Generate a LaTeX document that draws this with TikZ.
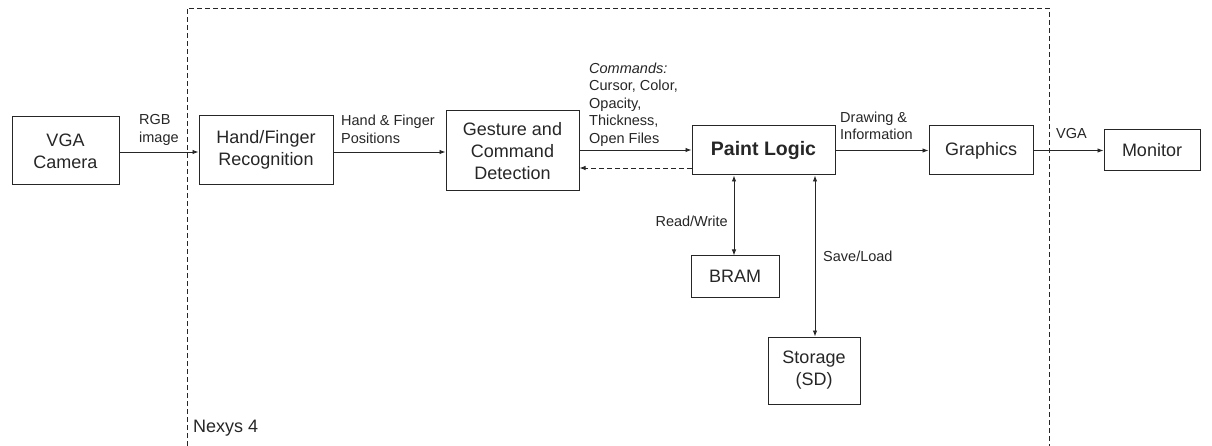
\documentclass[tikz,border=0pt]{standalone}
\usepackage{fontspec}
\setmainfont{Liberation Sans}
\usetikzlibrary{arrows.meta}
\definecolor{ink}{HTML}{262626}
\begin{document}
\begin{tikzpicture}[x=1pt,y=-1pt,
  box/.style={draw=ink,line width=1pt,inner sep=0pt,align=center,text=ink,font=\fontsize{18}{22}\selectfont},
  lbl/.style={inner sep=0pt,align=left,text=ink,font=\fontsize{14.5}{17.5}\selectfont},
  arr/.style={draw=ink,line width=0.9pt,-{Latex[length=6pt,width=4.5pt]}},
  darr/.style={draw=ink,line width=0.9pt,{Latex[length=6pt,width=4.5pt]}-{Latex[length=6pt,width=4.5pt]}},
  fence/.style={draw=ink,line width=0.9pt,dash pattern=on 5pt off 3pt}]
\useasboundingbox (0,0) rectangle (1212,446);
% Nexys 4 boundary
\coordinate (f1) at (187,446);
\coordinate (f2) at (187,8);
\coordinate (f3) at (1049,8);
\coordinate (f4) at (1049,446);
\draw[fence] (f1) -- (f2) -- (f3) -- (f4);
\node[anchor=west,inner sep=0pt,text=ink,font=\fontsize{18}{22}\selectfont] (nexys) at (193,428) {Nexys 4};
% boxes
\node[box,minimum width=107pt,minimum height=68pt] (cam) at (65.5,151) {VGA\\Camera};
\node[box,minimum width=134pt,minimum height=69pt] (hand) at (266,150) {Hand/Finger\\Recognition};
\node[box,minimum width=133pt,minimum height=80pt] (gest) at (512.5,151) {Gesture and\\Command\\Detection};
\node[box,minimum width=143pt,minimum height=49pt,font=\bfseries\fontsize{19.5}{22}\selectfont] (pl) at (763.5,150.5) {Paint Logic};
\node[box,minimum width=104pt,minimum height=49pt] (gfx) at (981,150.5) {Graphics};
\node[box,minimum width=96pt,minimum height=41pt] (mon) at (1152,150.5) {Monitor};
\node[box,minimum width=88pt,minimum height=41pt] (bram) at (735,276.5) {BRAM};
\node[box,minimum width=92pt,minimum height=67pt] (sd) at (814,370.5) {Storage\\(SD)};
% connectors
\coordinate (a1) at ([yshift=-1pt]cam.east);
\draw[arr] (a1) -- (a1 -| hand.west);
\coordinate (a2) at ([yshift=-2pt]hand.east);
\draw[arr] (a2) -- (a2 -| gest.west);
\coordinate (a3) at ([yshift=1pt]gest.east);
\draw[arr] (a3) -- (a3 -| pl.west);
\coordinate (a4) at ([yshift=-17.5pt]pl.west);
\draw[arr,dash pattern=on 5pt off 3pt] (a4) -- (a4 -| gest.east);
\draw[arr] (pl.east) -- (gfx.west);
\draw[arr] (gfx.east) -- (mon.west);
\coordinate (a5) at ([xshift=-1pt]bram.north);
\draw[darr] (a5) -- (a5 |- pl.south);
\coordinate (a6) at ([xshift=1pt]sd.north);
\draw[darr] (a6) -- (a6 |- pl.south);
% labels
\node[lbl,anchor=north west] (l1) at (139,114.5) {RGB\\image};
\node[lbl,anchor=north west] (l2) at (341,115) {Hand \& Finger\\Positions};
\node[lbl,anchor=north west] (l3) at (589,62.5) {\itshape Commands:\\Cursor, Color,\\Opacity,\\Thickness,\\Open Files};
\node[lbl,anchor=north west] (l4) at (840,111.5) {Drawing \&\\Information};
\node[lbl,anchor=west] (l5) at (1056,134) {VGA};
\node[lbl,anchor=east] (l6) at (728,221) {Read/Write};
\node[lbl,anchor=west] (l7) at (823,256) {Save/Load};
\end{tikzpicture}
\end{document}
